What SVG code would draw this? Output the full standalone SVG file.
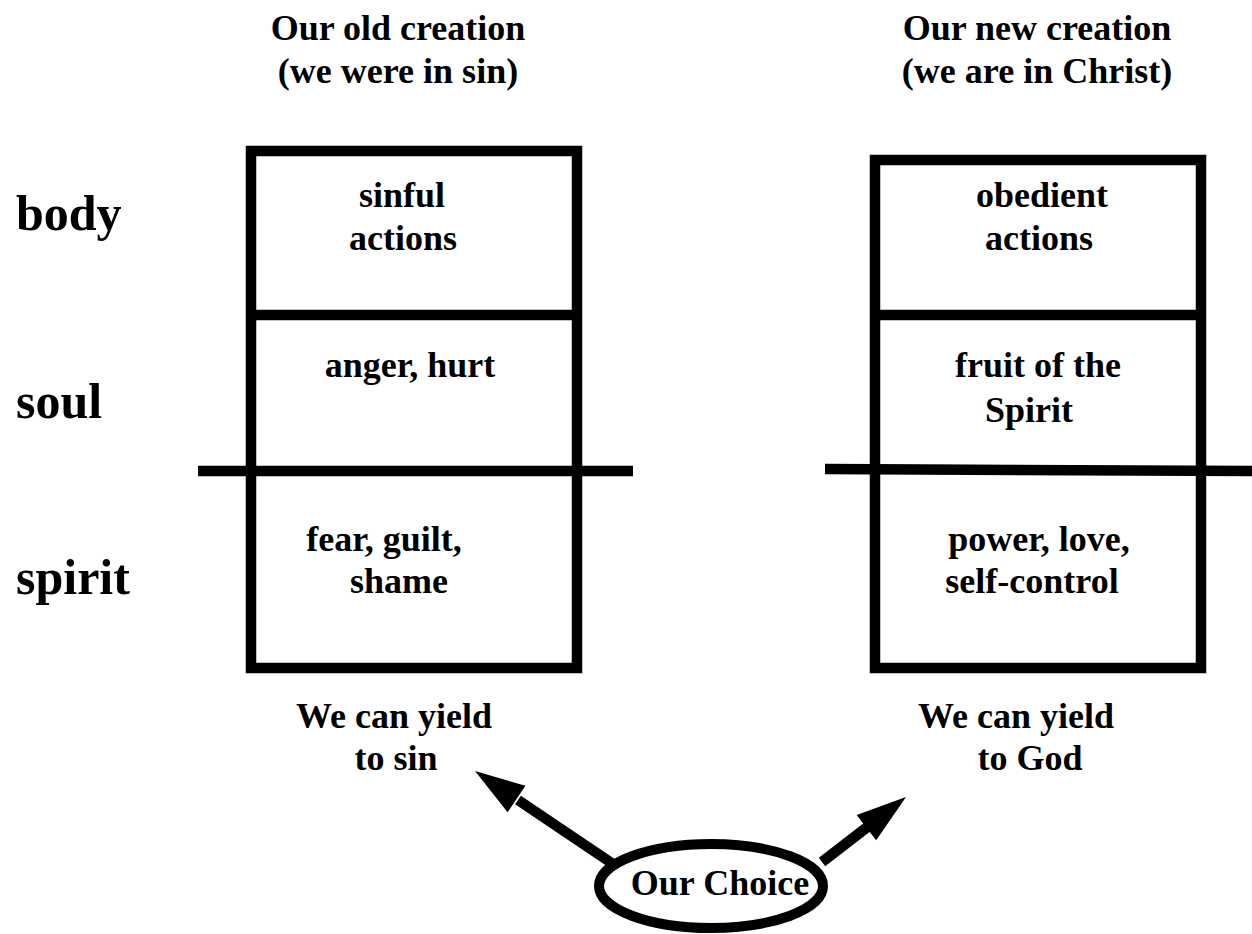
<svg xmlns="http://www.w3.org/2000/svg" width="1252" height="934" viewBox="0 0 1252 934">
<style>
text{font-family:"Liberation Serif",Tinos,"Times New Roman",Times,serif;font-weight:700;fill:#000;}
.t{font-size:36px;text-anchor:middle;}
.lbl{font-size:50px;}
.box{fill:none;stroke:#000;stroke-width:10.5;}
.ln{stroke:#000;stroke-width:10.5;fill:none;}
.head{fill:#000;stroke:none;}
</style>
<rect width="1252" height="934" fill="#fff"/>
<g id="labels" font-family="Liberation Serif">
<text class="lbl" x="16" y="230">body</text>
<text class="lbl" x="16" y="418">soul</text>
<text class="lbl" x="16" y="594">spirit</text>
</g>
<g id="title-old" font-family="Liberation Serif">
<text class="t" x="398" y="40">Our old creation</text>
<text class="t" x="398" y="83">(we were in sin)</text>
</g>
<g id="title-new" font-family="Liberation Serif">
<text class="t" x="1037" y="40">Our new creation</text>
<text class="t" x="1037" y="83">(we are in Christ)</text>
</g>
<g id="old-box" font-family="Liberation Serif">
<rect class="box" x="251" y="151" width="326" height="517"/>
<line class="ln" x1="251" y1="315" x2="577" y2="315"/>
<line class="ln" x1="198" y1="471" x2="633" y2="471"/>
<text class="t" x="402" y="207">sinful</text>
<text class="t" x="403" y="250">actions</text>
<text class="t" x="410" y="377">anger, hurt</text>
<text class="t" x="384" y="551">fear, guilt,</text>
<text class="t" x="399" y="593">shame</text>
</g>
<g id="new-box" font-family="Liberation Serif">
<rect class="box" x="875" y="160" width="326" height="508"/>
<line class="ln" x1="875" y1="315" x2="1201" y2="315"/>
<line class="ln" x1="825" y1="469" x2="1252" y2="471"/>
<text class="t" x="1042" y="207">obedient</text>
<text class="t" x="1039" y="250">actions</text>
<text class="t" x="1038" y="377">fruit of the</text>
<text class="t" x="1029" y="422">Spirit</text>
<text class="t" x="1039" y="551">power, love,</text>
<text class="t" x="1032" y="593">self-control</text>
</g>
<g id="yield-sin" font-family="Liberation Serif">
<text class="t" x="394" y="728">We can yield</text>
<text class="t" x="396" y="770">to sin</text>
</g>
<g id="yield-god" font-family="Liberation Serif">
<text class="t" x="1016" y="728">We can yield</text>
<text class="t" x="1030" y="770">to God</text>
</g>
<g id="connectors">
<line class="ln" x1="613" y1="864" x2="518" y2="800"/>
<polygon class="head" points="475,771 525.4,785.7 507.6,812.3"/>
<line class="ln" x1="822" y1="862" x2="868" y2="826.5"/>
<polygon class="head" points="906,797 876.2,840.3 856.6,814.9"/>
</g>
<g id="choice" font-family="Liberation Serif">
<ellipse cx="711" cy="886" rx="112" ry="42" fill="#fff" stroke="#000" stroke-width="10"/>
<text class="t" x="720" y="895">Our Choice</text>
</g>
</svg>
